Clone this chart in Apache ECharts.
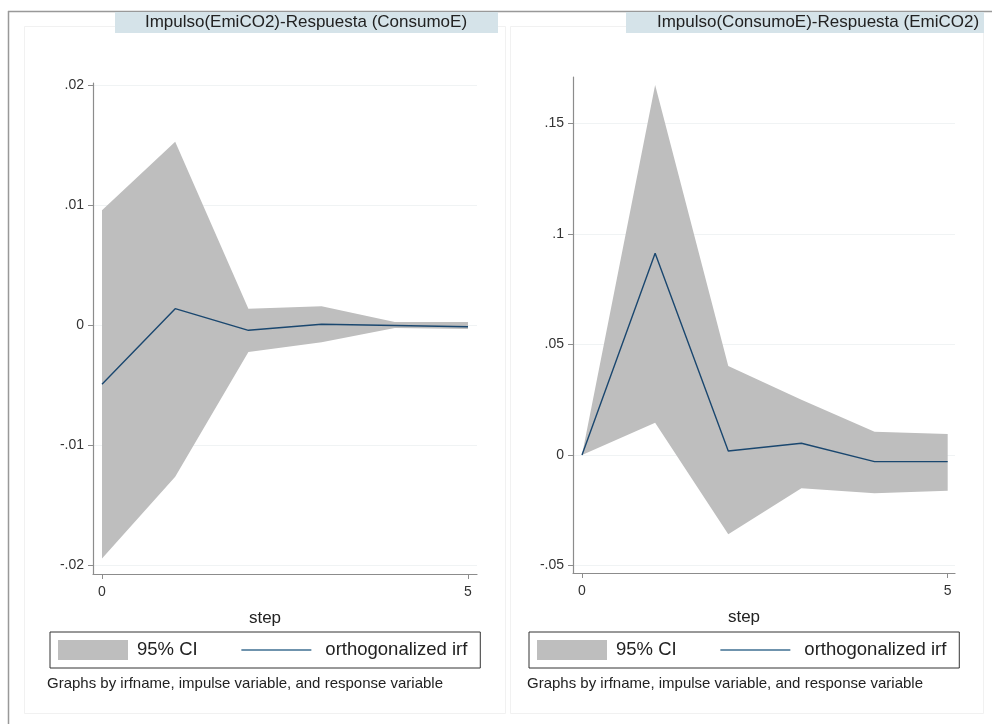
<!DOCTYPE html>
<html>
<head>
<meta charset="utf-8">
<script src="https://cdn.jsdelivr.net/npm/echarts@6/dist/echarts.min.js"></script>
<style>
html,body{margin:0;padding:0;background:#fff;}
#chart{width:992px;height:724px;}
</style>
</head>
<body>
<div id="chart"></div>
<script>
// ---- data ----
const steps = [0, 1, 2, 3, 4, 5];
const xTicks = [0, 5];

// Panel A: Impulso(EmiCO2)-Respuesta (ConsumoE)
const titleA = 'Impulso(EmiCO2)-Respuesta (ConsumoE)';
const irfA = [-0.0049, 0.0014, -0.0004, 0.0001, 0.0000, -0.0001];
const lowerA = [-0.0194, -0.0126, -0.0022, -0.0014, -0.0002, -0.0003];
const upperA = [0.0096, 0.0153, 0.0014, 0.0016, 0.0003, 0.0003];
const yTicksA = [-0.02, -0.01, 0, 0.01, 0.02];

// Panel B: Impulso(ConsumoE)-Respuesta (EmiCO2)
const titleB = 'Impulso(ConsumoE)-Respuesta (EmiCO2)';
const irfB = [0, 0.0913, 0.0018, 0.0053, -0.0030, -0.0030];
const lowerB = [0, 0.0146, -0.0359, -0.0151, -0.0173, -0.0162];
const upperB = [0, 0.1674, 0.0403, 0.0250, 0.0105, 0.0095];
const yTicksB = [-0.05, 0, 0.05, 0.1, 0.15];

const ciName = '95% CI';
const irfName = 'orthogonalized irf';
const xName = 'step';
const noteText = 'Graphs by irfname, impulse variable, and response variable';

// ---- styling ----
const FONT = '"Liberation Sans", Arial, Helvetica, sans-serif';
const BAND = '#bebebe';
const LINE = '#1a476f';
const AXIS = '#8c8c8c';

function stataNum(v) {
  if (v === 0) return '0';
  let s = String(+v.toFixed(4));
  return s.replace('0.', '.');
}

function ciRenderer(params, api) {
  if (params.dataIndexInside !== 0) return null;
  const n = params.dataInsideLength;
  const up = [], lo = [];
  for (let i = 0; i < n; i++) {
    up.push(api.coord([api.value(0, i), api.value(2, i)]));
    lo.push(api.coord([api.value(0, i), api.value(1, i)]));
  }
  return {
    type: 'polygon',
    shape: { points: up.concat(lo.reverse()) },
    style: { fill: BAND, stroke: null }
  };
}

function xAxisCfg(idx, min, max) {
  return {
    type: 'value', gridIndex: idx, min: min, max: max,
    name: xName, nameLocation: 'middle', nameGap: 36,
    nameTextStyle: { fontFamily: FONT, fontSize: 17, color: '#222', padding: [0, 40, 0, 0] },
    axisLine: { show: true, onZero: false, lineStyle: { color: AXIS, width: 1.2 } },
    axisTick: { show: true, length: 5, lineStyle: { color: AXIS }, customValues: xTicks },
    axisLabel: { fontFamily: FONT, fontSize: 14, color: '#333', margin: 11, customValues: xTicks, formatter: stataNum },
    splitLine: { show: false }
  };
}
function yAxisCfg(idx, min, max, ticks) {
  return {
    type: 'value', gridIndex: idx, min: min, max: max,
    axisLine: { show: true, onZero: false, lineStyle: { color: AXIS, width: 1.2 } },
    axisTick: { show: true, length: 5, lineStyle: { color: AXIS }, customValues: ticks },
    axisLabel: { fontFamily: FONT, fontSize: 14, color: '#333', margin: 9, customValues: ticks, formatter: stataNum },
    splitLine: { show: true, lineStyle: { color: '#f0f3f4', width: 1 } }
  };
}
function legendCfg(left) {
  return {
    left: left, top: 632, orient: 'horizontal',
    padding: [8, 13, 8, 8], itemWidth: 70, itemHeight: 20, itemGap: 43,
    borderColor: '#333', borderWidth: 1, selectedMode: false,
    textStyle: { fontFamily: FONT, fontSize: 18.5, color: '#222' },
    data: [
      { name: ciName, icon: 'rect', itemStyle: { color: BAND, borderWidth: 0 }, textStyle: { padding: [0, 0, 0, 4] } },
      { name: irfName, itemStyle: { opacity: 0 }, lineStyle: { color: '#3f6f92', width: 1.4 }, textStyle: { padding: [0, 0, 0, 9] } }
    ]
  };
}

const chart = echarts.init(document.getElementById('chart'), null, { renderer: 'canvas' });

const option = {
  backgroundColor: '#fff',
  animation: false,
  grid: [
    { left: 93, top: 83, width: 384, height: 491 },
    { left: 573, top: 77, width: 382, height: 496 }
  ],
  xAxis: [xAxisCfg(0, -0.123, 5.123), xAxisCfg(1, -0.123, 5.1)],
  yAxis: [yAxisCfg(0, -0.0207, 0.0202, yTicksA), yAxisCfg(1, -0.0534, 0.171, yTicksB)],
  legend: [legendCfg(50), legendCfg(529)],
  series: [
    {
      name: ciName, type: 'custom', xAxisIndex: 0, yAxisIndex: 0,
      itemStyle: { color: BAND },
      encode: { x: 0, y: [1, 2] },
      data: steps.map((s, i) => [s, lowerA[i], upperA[i]]),
      renderItem: ciRenderer, z: 1, silent: true
    },
    {
      name: irfName, type: 'line', xAxisIndex: 0, yAxisIndex: 0,
      data: steps.map((s, i) => [s, irfA[i]]),
      symbol: 'none', showSymbol: false,
      lineStyle: { color: LINE, width: 1.4 }, itemStyle: { color: LINE }, z: 3, silent: true
    },
    {
      name: ciName, type: 'custom', xAxisIndex: 1, yAxisIndex: 1,
      itemStyle: { color: BAND },
      encode: { x: 0, y: [1, 2] },
      data: steps.map((s, i) => [s, lowerB[i], upperB[i]]),
      renderItem: ciRenderer, z: 1, silent: true
    },
    {
      name: irfName, type: 'line', xAxisIndex: 1, yAxisIndex: 1,
      data: steps.map((s, i) => [s, irfB[i]]),
      symbol: 'none', showSymbol: false,
      lineStyle: { color: LINE, width: 1.4 }, itemStyle: { color: LINE }, z: 3, silent: true
    }
  ],
  graphic: [
    // faint inner panels
    { type: 'rect', silent: true, z: -10, shape: { x: 24.5, y: 26.5, width: 481, height: 687 }, style: { fill: null, stroke: '#f1f1f1', lineWidth: 1 } },
    { type: 'rect', silent: true, z: -10, shape: { x: 510.5, y: 26.5, width: 473, height: 687 }, style: { fill: null, stroke: '#f1f1f1', lineWidth: 1 } },
    // outer frame
    { type: 'line', silent: true, shape: { x1: 8, y1: 11.5, x2: 992, y2: 11.5 }, style: { stroke: '#999', lineWidth: 1.5 } },
    { type: 'line', silent: true, shape: { x1: 8.5, y1: 11, x2: 8.5, y2: 724 }, style: { stroke: '#999', lineWidth: 1.5 } },
    // title bands
    { type: 'rect', silent: true, shape: { x: 115, y: 12, width: 383, height: 21 }, style: { fill: '#d5e3e9' } },
    { type: 'rect', silent: true, shape: { x: 626, y: 12, width: 358, height: 21 }, style: { fill: '#d5e3e9' } },
    { type: 'text', silent: true, x: 306, y: 22.5, style: { text: titleA, fontFamily: FONT, fontSize: 17, fill: '#222', align: 'center', verticalAlign: 'middle' } },
    { type: 'text', silent: true, x: 818, y: 22.5, style: { text: titleB, fontFamily: FONT, fontSize: 17, fill: '#222', align: 'center', verticalAlign: 'middle' } },
    // notes
    { type: 'text', silent: true, x: 47, y: 684, style: { text: noteText, fontFamily: FONT, fontSize: 15, fill: '#222', align: 'left', verticalAlign: 'middle' } },
    { type: 'text', silent: true, x: 527, y: 684, style: { text: noteText, fontFamily: FONT, fontSize: 15, fill: '#222', align: 'left', verticalAlign: 'middle' } }
  ]
};
chart.setOption(option);
</script>
</body>
</html>
